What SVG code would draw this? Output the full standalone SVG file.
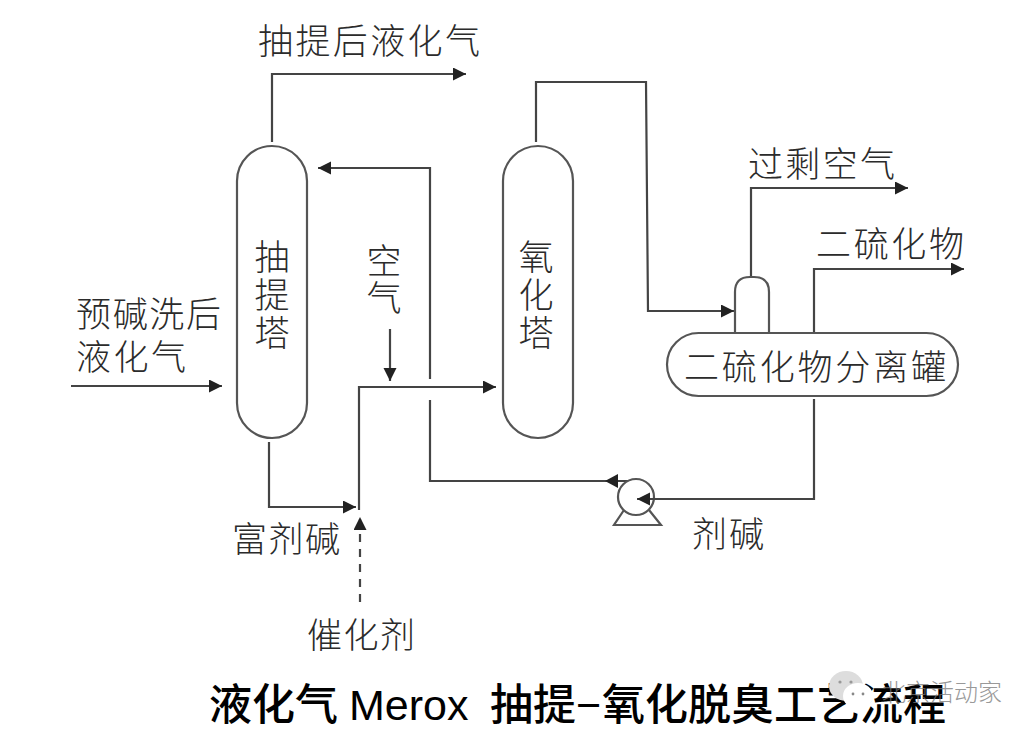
<svg xmlns="http://www.w3.org/2000/svg" width="1035" height="737" viewBox="0 0 1035 737">
<style>
.v{fill:none;stroke:#555;stroke-width:2.2}
.c{fill:none;stroke:#444;stroke-width:2.2}
.d{stroke-dasharray:8 7}
.t{font-family:"Noto Sans CJK SC","Noto Sans CJK JP",sans-serif;font-size:35px;fill:#2b2b2b;font-weight:300}
.h{font-family:"Liberation Sans","Noto Sans CJK SC",sans-serif;font-size:43px;fill:#000;font-weight:500}
.w{font-family:"Noto Sans CJK SC",sans-serif;font-size:24px;fill:#777;font-weight:300;opacity:.75}
</style>
<defs>
<marker id="a" markerUnits="userSpaceOnUse" markerWidth="14" markerHeight="14" refX="13" refY="6.5" orient="auto"><path d="M0 0L13 6.5L0 13Z" fill="#222"/></marker>
</defs>
<rect width="1035" height="737" fill="#fff"/>
<g id="connectors">
<path class="c" marker-end="url(#a)" d="M272 142V74H466"/>
<path class="c" marker-end="url(#a)" d="M430 379V168H318"/>
<path class="c" marker-end="url(#a)" d="M71 386H222"/>
<path class="c" marker-end="url(#a)" d="M390 329V381"/>
<path class="c" marker-end="url(#a)" d="M359 510V387H496"/>
<path class="c" marker-end="url(#a)" d="M269 442V507H356"/>
<path class="c d" marker-end="url(#a)" d="M360 602V517"/>
<path class="c" marker-end="url(#a)" d="M536 142V82H646L648 311H734"/>
<path class="c" marker-end="url(#a)" d="M751 277V188H908"/>
<path class="c" marker-end="url(#a)" d="M814 333V269H964"/>
<path class="c" d="M430 400V481H628"/>
<path d="M618 474L605 481L618 488Z" fill="#222"/>
</g>
<g id="extract-tower"><rect class="v" x="237" y="146" width="70" height="292" rx="35"/><text class="t" text-anchor="middle"><tspan x="272" y="270">抽</tspan><tspan x="272" y="308">提</tspan><tspan x="272" y="346">塔</tspan></text></g>
<g id="oxidation-tower"><rect class="v" x="503" y="146" width="70" height="292" rx="35"/><text class="t" text-anchor="middle"><tspan x="536" y="270">氧</tspan><tspan x="536" y="308">化</tspan><tspan x="536" y="346">塔</tspan></text></g>
<g id="separator"><path class="v" d="M735 333V292Q735 277 750 277H754Q769 277 769 292V333"/><rect class="v" x="667" y="333" width="291" height="63" rx="31.5" fill="#fff"/><text class="t" x="684" y="380" textLength="262">二硫化物分离罐</text></g>
<g id="pump"><circle class="v" cx="636" cy="497" r="18" fill="#fff"/><path class="v" d="M624 510L614 525H661L649 510"/></g>
<g id="return-line"><path class="c" marker-end="url(#a)" d="M814 399V499H637"/></g>
<g id="labels">
<text class="t" x="258" y="54" textLength="222">抽提后液化气</text>
<text class="t" x="748" y="177" textLength="147">过剩空气</text>
<text class="t" x="816" y="257" textLength="148">二硫化物</text>
<text class="t" x="76" y="327" textLength="145">预碱洗后</text>
<text class="t" x="76" y="370" textLength="110">液化气</text>
<text class="t" text-anchor="middle"><tspan x="384" y="274">空</tspan><tspan x="384" y="311">气</tspan></text>
<text class="t" x="232" y="552" textLength="108">富剂碱</text>
<text class="t" x="692" y="547" textLength="72">剂碱</text>
<text class="t" x="307" y="648" textLength="108">催化剂</text>
</g>
<text class="h" y="720"><tspan x="209">液化气</tspan><tspan x="349">Merox</tspan><tspan x="490">抽提−</tspan><tspan x="602">氧化脱臭工艺流程</tspan></text>
<g id="watermark">
<ellipse cx="846" cy="686" rx="17" ry="15" fill="#ddd"/>
<ellipse cx="858" cy="696" rx="15" ry="13" fill="#fff"/>
<circle cx="840" cy="682" r="1.6" fill="#999"/><circle cx="851" cy="682" r="1.6" fill="#999"/>
<circle cx="853" cy="694" r="1.4" fill="#888"/><circle cx="863" cy="694" r="1.4" fill="#888"/>
<text class="w" x="882" y="701">北京活动家</text>
</g>
</svg>
